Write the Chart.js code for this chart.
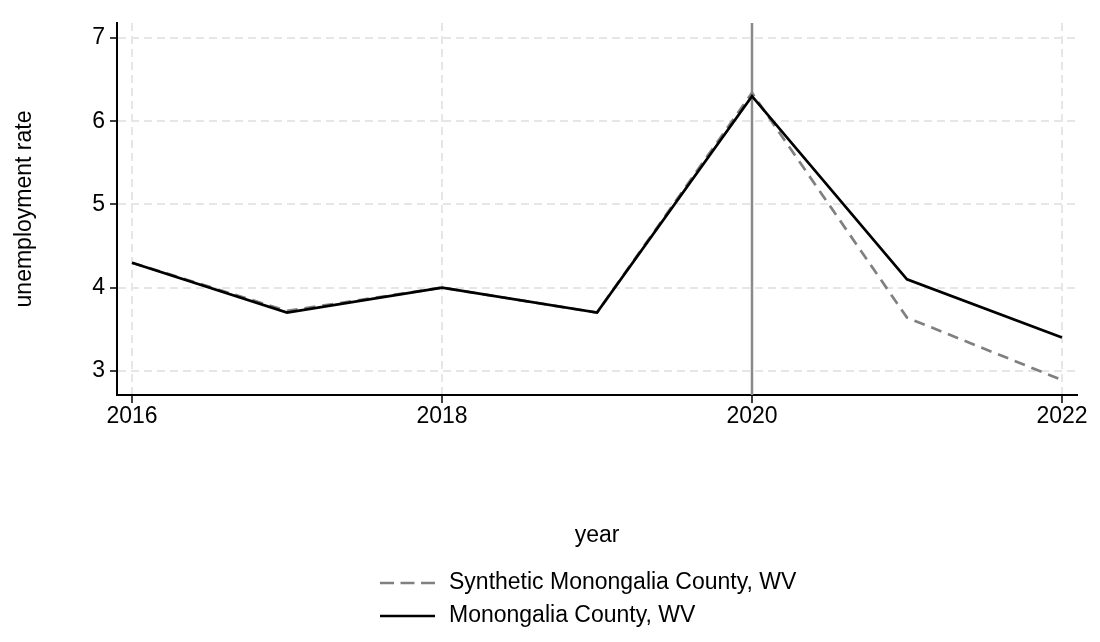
<!DOCTYPE html>
<html>
<head>
<meta charset="utf-8">
<script src="https://cdn.jsdelivr.net/npm/chart.js@4/dist/chart.umd.min.js"></script>
<style>
  html, body { margin: 0; padding: 0; background: #fff; }
  #wrap { width: 1100px; height: 642px; }
</style>
</head>
<body>
<div id="wrap"><canvas id="myChart" width="1100" height="642"></canvas></div>
<script>
// data
var years = [2016, 2017, 2018, 2019, 2020, 2021, 2022];
var synthetic_rate = [4.3, 3.72, 4.0, 3.7, 6.34, 3.64, 2.89];
var actual_rate = [4.3, 3.7, 4.0, 3.7, 6.3, 4.1, 3.4];
var x_ticks = [2016, 2018, 2020, 2022];
var y_ticks = [3, 4, 5, 6, 7];
var treat_year = 2020;
var synthetic_label = 'Synthetic Monongalia County, WV';
var actual_label = 'Monongalia County, WV';

var font_name = "'Liberation Sans', Arial, Helvetica, sans-serif";
var font_size = 23;

function to_points(xs, ys) {
    var arr = [];
    for (var i = 0; i < xs.length; i++) {
        arr.push({x: xs[i], y: ys[i]});
    }
    return arr;
}

// vertical line at the treatment year
var xline_plugin = {
    id: 'xline',
    beforeDatasetsDraw: function(chart) {
        var ctx = chart.ctx;
        var area = chart.chartArea;
        var px = chart.scales.x.getPixelForValue(treat_year);
        ctx.save();
        ctx.strokeStyle = '#8a8a8a';
        ctx.lineWidth = 2.5;
        ctx.beginPath();
        ctx.moveTo(px, area.top);
        ctx.lineTo(px, area.bottom);
        ctx.stroke();
        ctx.restore();
    }
};

// stacked legend below the axis title (stata style)
var legend_plugin = {
    id: 'stackLegend',
    afterDraw: function(chart) {
        var ctx = chart.ctx;
        var sets = chart.data.datasets;
        var x0 = 380, sampleW = 55, gap = 14, y0 = 583, rowH = 33;
        ctx.save();
        ctx.font = font_size + 'px ' + font_name;
        ctx.textBaseline = 'middle';
        ctx.fillStyle = '#000';
        for (var i = 0; i < sets.length; i++) {
            var y = y0 + i * rowH;
            ctx.strokeStyle = sets[i].borderColor;
            ctx.lineWidth = sets[i].borderWidth;
            // legend key shows three whole dashes
            ctx.setLineDash(sets[i].borderDash ? [14, 6.5] : []);
            ctx.beginPath();
            ctx.moveTo(x0, y);
            ctx.lineTo(x0 + sampleW, y);
            ctx.stroke();
            ctx.setLineDash([]);
            ctx.fillText(sets[i].label, x0 + sampleW + gap, y);
        }
        ctx.restore();
    }
};

var ctx = document.getElementById('myChart').getContext('2d');
var myChart = new Chart(ctx, {
    type: 'line',
    data: {
        datasets: [
            {
                label: synthetic_label,
                data: to_points(years, synthetic_rate),
                borderColor: '#808080',
                borderWidth: 2.7,
                borderDash: [11, 7],
                pointRadius: 0,
                fill: false,
                order: 1
            },
            {
                label: actual_label,
                data: to_points(years, actual_rate),
                borderColor: '#000000',
                borderWidth: 2.7,
                pointRadius: 0,
                fill: false,
                order: 0
            }
        ]
    },
    options: {
        responsive: false,
        animation: false,
        devicePixelRatio: 1,
        layout: {
            padding: {left: 0, top: 23, right: 23, bottom: 0}
        },
        plugins: {
            legend: { display: false },
            tooltip: { enabled: false }
        },
        scales: {
            x: {
                type: 'linear',
                min: 2015.903,
                max: 2022.097,
                afterBuildTicks: function(scale) {
                    scale.ticks = x_ticks.map(function(v) { return {value: v}; });
                },
                afterFit: function(scale) {
                    scale.height = 247;
                },
                ticks: {
                    color: '#000',
                    padding: 0,
                    maxRotation: 0,
                    font: {family: font_name, size: font_size},
                    callback: function(v) { return String(v); }
                },
                grid: {
                    color: '#e6e6e6',
                    lineWidth: 2,
                    tickLength: 8,
                    tickColor: '#000',
                    tickWidth: 1.5
                },
                border: {
                    display: true,
                    color: '#000',
                    width: 2,
                    dash: [8, 5]
                },
                title: {
                    display: true,
                    text: 'year',
                    color: '#000',
                    font: {family: font_name, size: font_size},
                    padding: {top: 0, bottom: 93}
                }
            },
            y: {
                min: 2.71,
                max: 7.18,
                afterBuildTicks: function(scale) {
                    scale.ticks = y_ticks.map(function(v) { return {value: v}; });
                },
                afterFit: function(scale) {
                    scale.width = 117;
                },
                ticks: {
                    color: '#000',
                    padding: 5,
                    font: {family: font_name, size: font_size},
                    callback: function(v) { return String(v); }
                },
                grid: {
                    color: '#e6e6e6',
                    lineWidth: 2,
                    tickLength: 7,
                    tickColor: '#000',
                    tickWidth: 1.5
                },
                border: {
                    display: true,
                    color: '#000',
                    width: 2,
                    dash: [8, 5]
                },
                title: {
                    display: true,
                    text: 'unemployment rate',
                    color: '#000',
                    font: {family: font_name, size: font_size},
                    padding: {top: 11, bottom: 0}
                }
            }
        }
    },
    plugins: [xline_plugin, legend_plugin]
});
</script>
</body>
</html>
